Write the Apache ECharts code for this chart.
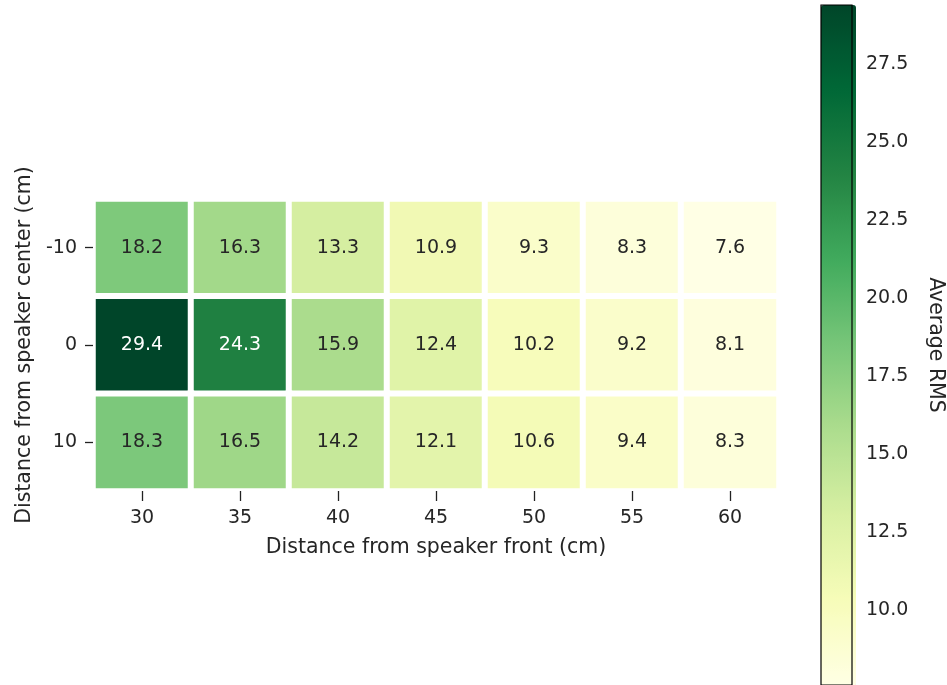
<!DOCTYPE html>
<html>
<head>
<meta charset="utf-8">
<script src="https://cdn.jsdelivr.net/npm/echarts@6/dist/echarts.min.js"></script>
<style>
  html, body { margin: 0; padding: 0; background: #fff; }
  #chart { width: 947px; height: 685px; }
</style>
</head>
<body>
<div id="chart"></div>
<script>
// Distance from speaker front (cm) – columns
const frontDistances = ['30', '35', '40', '45', '50', '55', '60'];
// Distance from speaker center (cm) – rows, top to bottom
const centerOffsets = ['-10', '0', '10'];
// Average RMS per row
const rmsRowMinus10 = [18.2, 16.3, 13.3, 10.9, 9.3, 8.3, 7.6];
const rmsRow0       = [29.4, 24.3, 15.9, 12.4, 10.2, 9.2, 8.1];
const rmsRow10      = [18.3, 16.5, 14.2, 12.1, 10.6, 9.4, 8.3];
// Colour bar tick values
const colorbarTicks = [10.0, 12.5, 15.0, 17.5, 20.0, 22.5, 25.0, 27.5];

const rows = [rmsRowMinus10, rmsRow0, rmsRow10];
const allValues = rows.flat();
const vMin = Math.min(...allValues);
const vMax = Math.max(...allValues);

// YlGn colour ramp
const ylgn = ['#ffffe5', '#f7fcb9', '#d9f0a3', '#addd8e', '#78c679',
              '#41ab5d', '#238443', '#006837', '#004529'];

const FONT = 'DejaVu Sans';
const TEXT = '#262626';
const FS = 19;      // tick labels and cell annotations
const FS_T = 20.5;  // axis titles

const cells = [];
rows.forEach((row, r) => {
  row.forEach((v, c) => {
    const t = (v - vMin) / (vMax - vMin);
    cells.push({
      value: [c, r, v],
      label: { color: t > 0.6 ? '#ffffff' : TEXT }
    });
  });
});

const chart = echarts.init(document.getElementById('chart'), null, { renderer: 'canvas' });

chart.setOption({
  animation: false,
  backgroundColor: '#ffffff',
  textStyle: { fontFamily: FONT },
  grid: [
    { left: 93, top: 199, width: 686, height: 292, containLabel: false },
    { left: 821, top: 5, width: 35, height: 681, show: true,
      borderColor: '#000', borderWidth: 1.2, backgroundColor: 'transparent', z: 10 }
  ],
  xAxis: [
    {
      type: 'category', gridIndex: 0, data: frontDistances, position: 'bottom', z: 10,
      axisLine: { show: false },
      axisTick: { show: true, inside: false, alignWithLabel: true, length: 10,
                  lineStyle: { color: '#222', width: 1.3 } },
      axisLabel: { color: TEXT, fontSize: FS, fontFamily: FONT, margin: 18 },
      splitLine: { show: false },
      name: 'Distance from speaker front (cm)', nameLocation: 'middle', nameGap: 46,
      nameTextStyle: { color: TEXT, fontSize: FS_T, fontFamily: FONT }
    },
    { type: 'value', gridIndex: 1, show: false, min: 0, max: 1 }
  ],
  yAxis: [
    {
      type: 'category', gridIndex: 0, data: centerOffsets, inverse: true, z: 10,
      axisLine: { show: false },
      axisTick: { show: true, alignWithLabel: true, length: 8, lineStyle: { color: '#222', width: 1.3 } },
      axisLabel: { color: TEXT, fontSize: FS, fontFamily: FONT, margin: 16 },
      splitLine: { show: false },
      name: 'Distance from speaker center (cm)', nameLocation: 'middle', nameGap: 57,
      nameRotate: 90,
      nameTextStyle: { color: TEXT, fontSize: FS_T, fontFamily: FONT }
    },
    {
      type: 'value', gridIndex: 1, position: 'right', min: vMin, max: vMax,
      axisLine: { show: false },
      axisTick: { show: true, length: 6, lineStyle: { color: '#222', width: 1.3 }, customValues: colorbarTicks },
      axisLabel: { color: TEXT, fontSize: FS, fontFamily: FONT, margin: 14,
                   customValues: colorbarTicks, formatter: v => v.toFixed(1) },
      splitLine: { show: false },
      name: 'Average RMS', nameLocation: 'middle', nameGap: 73, nameRotate: -90,
      nameTextStyle: { color: TEXT, fontSize: FS_T, fontFamily: FONT }
    }
  ],
  visualMap: {
    type: 'continuous', min: vMin, max: vMax, seriesIndex: 0,
    calculable: false, orient: 'vertical',
    left: 821, top: 5, itemWidth: 35, itemHeight: 681, padding: 0,
    showLabel: false, text: null, hoverLink: false,
    inRange: { color: ylgn }
  },
  series: [{
    type: 'heatmap', xAxisIndex: 0, yAxisIndex: 0,
    data: cells,
    label: { show: true, fontSize: FS, fontFamily: FONT, formatter: p => p.value[2].toFixed(1) },
    itemStyle: { borderColor: '#ffffff', borderWidth: 6 },
    emphasis: { disabled: true }
  }]
});
</script>
</body>
</html>
